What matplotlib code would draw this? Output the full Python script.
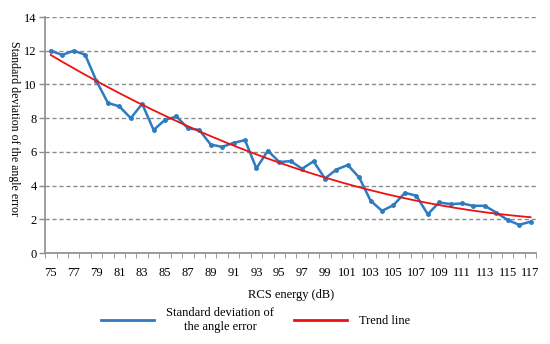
import numpy as np
import matplotlib
matplotlib.use("Agg")
import matplotlib.pyplot as plt
from matplotlib.lines import Line2D
from matplotlib.ticker import MultipleLocator

plt.rcParams["font.family"] = ["Liberation Serif", "DejaVu Serif"]

# RCS energy categories (dB)
energy = list(range(75, 118))
# standard deviation of the angle error
std_err = [12.0, 11.75, 12.0, 11.77, 10.2, 8.9, 8.7, 8.0, 8.85, 7.3,
           7.9, 8.1, 7.4, 7.3, 6.43, 6.3, 6.53, 6.7, 5.02, 6.07,
           5.4, 5.45, 5.0, 5.44, 4.42, 4.95, 5.22, 4.48, 3.1, 2.5,
           2.84, 3.57, 3.4, 2.3, 3.0, 2.9, 2.94, 2.8, 2.8, 2.4,
           1.96, 1.67, 1.86]
tick_labels = [str(e) for e in energy[::2]]

blue = "#2E7BBF"
red = "#EE1111"
grey = "#8C8C8C"

x = np.arange(len(energy))
# Excel style polynomial trend line (order 2)
coef = np.polyfit(x, std_err, 2)
xs = np.linspace(0, len(energy) - 1, 200)
trend = np.polyval(coef, xs)

fig = plt.figure(figsize=(5.5, 3.44), dpi=100)
ax = fig.add_axes([0.082, 0.2645, 0.893, 0.686])

ax.plot(x, std_err, color=blue, linewidth=1.8, marker="o", markersize=2.5, zorder=3)
ax.plot(xs, trend, color=red, linewidth=1.3, zorder=4)

ax.set_xlim(-0.5, len(energy) - 0.5)
ax.set_ylim(0, 14)
ax.yaxis.set_major_locator(MultipleLocator(2))
ax.set_xticks(x[::2])
ax.set_xticklabels(tick_labels)
ax.set_xticks(np.arange(-0.5, len(energy)), minor=True)
ax.tick_params(axis="x", which="major", length=0, pad=10, labelsize=9)
ax.tick_params(axis="x", which="minor", length=3.5, color=grey, direction="out")
ax.tick_params(axis="y", length=4, color=grey, width=1, pad=2, labelsize=9)

ax.grid(axis="y", color=grey, linestyle=(0, (3, 2)), linewidth=1)
for s in ["top", "right"]:
    ax.spines[s].set_visible(False)
for s in ["left", "bottom"]:
    ax.spines[s].set_color(grey)
    ax.spines[s].set_linewidth(1.2)

ax.set_xlabel("RCS energy (dB)", fontsize=9, labelpad=7)
ax.set_ylabel("Standard deviation of the angle error", fontsize=8.6,
              rotation=-90, rotation_mode="default", va="center", ha="center")
ax.yaxis.set_label_coords(-0.064, 0.53)

handles = [Line2D([], [], color=blue, linewidth=2),
           Line2D([], [], color=red, linewidth=2)]
leg = fig.legend(handles, ["Standard deviation of\nthe angle error", "Trend line"],
                 loc="lower center", bbox_to_anchor=(0.465, 0.0), ncol=2,
                 frameon=False, fontsize=9, handlelength=4.2, columnspacing=1.6,
                 handletextpad=1.0)
for t in leg.get_texts():
    t.set_multialignment("center")

fig.savefig("out.png", dpi=100)
